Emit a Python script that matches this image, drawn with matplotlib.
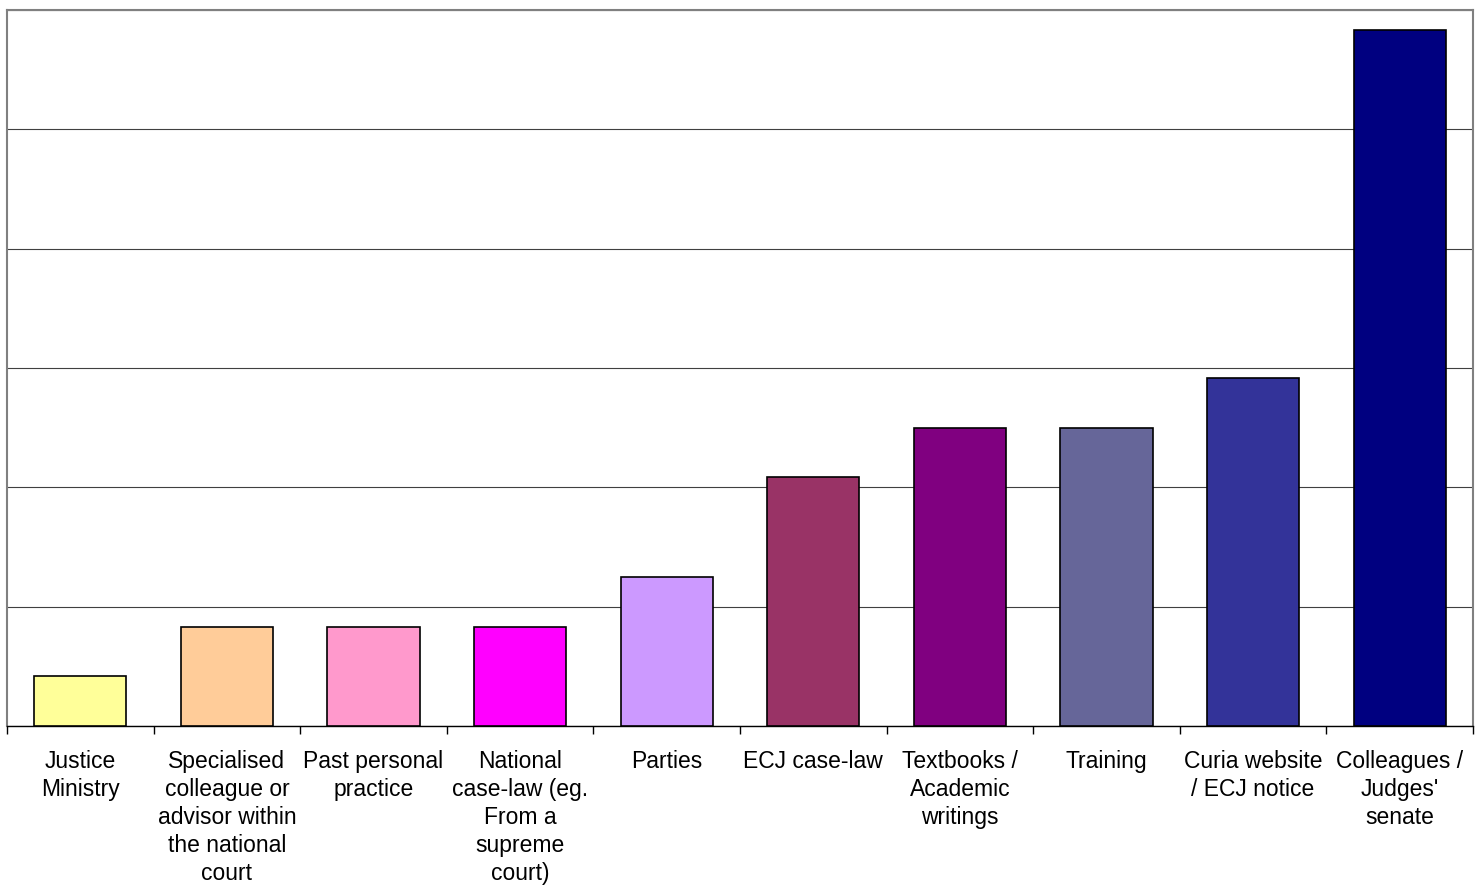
import matplotlib
matplotlib.use("Agg")
import matplotlib.pyplot as plt
import numpy as np

categories = [
    "Justice\nMinistry",
    "Specialised\ncolleague or\nadvisor within\nthe national\ncourt",
    "Past personal\npractice",
    "National\ncase-law (eg.\nFrom a\nsupreme\ncourt)",
    "Parties",
    "ECJ case-law",
    "Textbooks /\nAcademic\nwritings",
    "Training",
    "Curia website\n/ ECJ notice",
    "Colleagues /\nJudges'\nsenate",
]
values = [1, 2, 2, 2, 3, 5, 6, 6, 7, 14]
colors = ["#FFFF99", "#FFCC99", "#FF99CC", "#FF00FF", "#CC99FF",
          "#993366", "#800080", "#666699", "#333399", "#000080"]

plt.rcParams["font.family"] = ["Liberation Sans", "DejaVu Sans"]

fig = plt.figure(figsize=(14.8, 8.85), dpi=100)
ax = fig.add_axes([7 / 1480, 159 / 885, 1466 / 1480, 716 / 885])

x = np.arange(len(categories))
ax.bar(x, values, width=0.63, color=colors, edgecolor="black", linewidth=1.2, zorder=3)

ax.set_xlim(-0.5, len(categories) - 0.5)
ax.set_ylim(0, 14.4)
ax.set_yticks(np.arange(0, 14.41, 2.4))
ax.set_yticklabels([])
ax.tick_params(axis="y", length=0)
ax.grid(axis="y", color="#404040", linewidth=0.8, zorder=0)

# category boundaries as tick marks
ax.set_xticks(np.arange(-0.5, len(categories), 1.0))
ax.set_xticklabels([])
ax.set_xticks(x, minor=True)
ax.set_xticklabels(categories, minor=True, fontsize=16.5, linespacing=1.28)
ax.tick_params(axis="x", which="major", length=6, width=1, color="black")
ax.tick_params(axis="x", which="minor", length=0, pad=17.5)

for side in ["top", "left", "right"]:
    ax.spines[side].set_color("#808080")
    ax.spines[side].set_linewidth(1.5)
ax.spines["bottom"].set_color("black")
ax.spines["bottom"].set_linewidth(1)

plt.savefig("out.png", dpi=100)
